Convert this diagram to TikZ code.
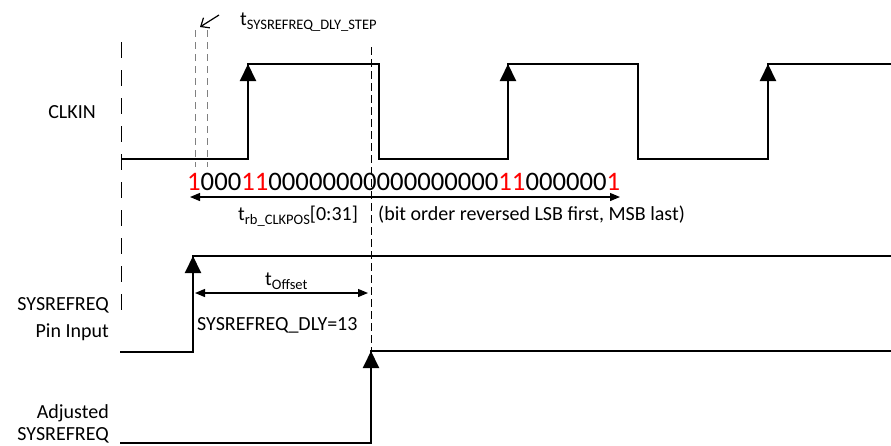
\documentclass[tikz,border=0pt]{standalone}
\usepackage{fontspec}
\setmainfont{Carlito}
\usetikzlibrary{arrows.meta}
\newcommand\lsub[1]{\raisebox{-4pt}{\fontsize{14.5}{15}\selectfont #1}}
\begin{document}
\begin{tikzpicture}[x=1pt,y=-1pt,
  sig/.style={line width=2pt, line join=miter},
  edgearr/.style={line width=2pt,-{Triangle[width=16pt,length=17pt]}},
  dim/.style={line width=1.2pt,{Triangle[width=8pt,length=10pt]}-{Triangle[width=8pt,length=10pt]}},
  lbl/.style={font=\fontsize{20}{24}\selectfont, inner sep=0pt},
  bigdash/.style={line width=1pt, dash pattern=on 16pt off 12pt},
  smalldash/.style={line width=1pt, dash pattern=on 8pt off 4pt},
  greydash/.style={line width=1pt, gray, dash pattern=on 7pt off 5pt},
]
\useasboundingbox (0,0) rectangle (891,445);
% dashed guide lines
\draw[bigdash] (121,42) coordinate (ga) -- (121,320) coordinate (gb);
\draw[greydash] (195,30) coordinate (gc) -- (195,167) coordinate (gd);
\draw[greydash] (207,30) coordinate (ge) -- (207,167) coordinate (gf);
\draw[smalldash] (371,47) coordinate (gg) -- (371,350) coordinate (gh);
% CLKIN
\draw[sig] (121,159) -- (248,159) -- (248,64) -- (379,64) -- (379,159) -- (508,159) -- (508,64) -- (638,64) -- (638,159) -- (768,159) -- (768,64) -- (891,64);
\coordinate (c1l) at (248,159); \coordinate (c1h) at (248,64);
\coordinate (c2l) at (508,159); \coordinate (c2h) at (508,64);
\coordinate (c3l) at (768,159); \coordinate (c3h) at (768,64);
\draw[edgearr] (c1l) -- (c1h);
\draw[edgearr] (c2l) -- (c2h);
\draw[edgearr] (c3l) -- (c3h);
% SYSREFREQ pin input
\draw[sig] (120,352) -- (193,352) -- (193,256) -- (891,256);
\coordinate (p1l) at (193,352); \coordinate (p1h) at (193,256);
\draw[edgearr] (p1l) -- (p1h);
% Adjusted SYSREFREQ
\draw[sig] (120,443) -- (371,443) -- (371,351) -- (891,351);
\coordinate (a1l) at (371,443); \coordinate (a1h) at (371,351);
\draw[edgearr] (a1l) -- (a1h);
% step arrow
\coordinate (sa) at (219,15); \coordinate (sb) at (200,27);
\draw[line width=1.2pt, -{Straight Barb[length=7pt,width=12pt]}] (sa) -- (sb);
% dimension arrows
\coordinate (d1a) at (190,197); \coordinate (d1b) at (620,197);
\draw[dim] (d1a) -- (d1b);
\coordinate (d2a) at (195,293); \coordinate (d2b) at (368,293);
\draw[dim] (d2a) -- (d2b);
% texts
\node[lbl, anchor=base west] (tstep) at (240,25) {t\lsub{SYSREFREQ\_DLY\_STEP}};
\node[anchor=base west, inner sep=0pt, font=\fontsize{26.7}{30}\selectfont] (bits) at (187,190)
  {\textcolor{red}{1}000\textcolor{red}{11}00000000000000000\textcolor{red}{11}000000\textcolor{red}{1}};
\node[lbl, anchor=base west] (trb) at (238,220) {t\lsub{rb\_CLKPOS}[0:31]};
\node[lbl, anchor=base west] (order) at (378,220) {(bit order reversed LSB first, MSB last)};
\node[lbl, anchor=base west] (toff) at (265,285) {t\lsub{Offset}};
\node[lbl, anchor=base west] (dly) at (197,330) {SYSREFREQ\_DLY=13};
\node[lbl, anchor=base] (clkin) at (72,118) {CLKIN};
\node[lbl, anchor=base east] (pin1) at (109,310) {SYSREFREQ};
\node[lbl, anchor=base east] (pin2) at (109,337) {Pin Input};
\node[lbl, anchor=base east] (adj1) at (109,418) {Adjusted};
\node[lbl, anchor=base east] (adj2) at (109,440) {SYSREFREQ};
\end{tikzpicture}
\end{document}
